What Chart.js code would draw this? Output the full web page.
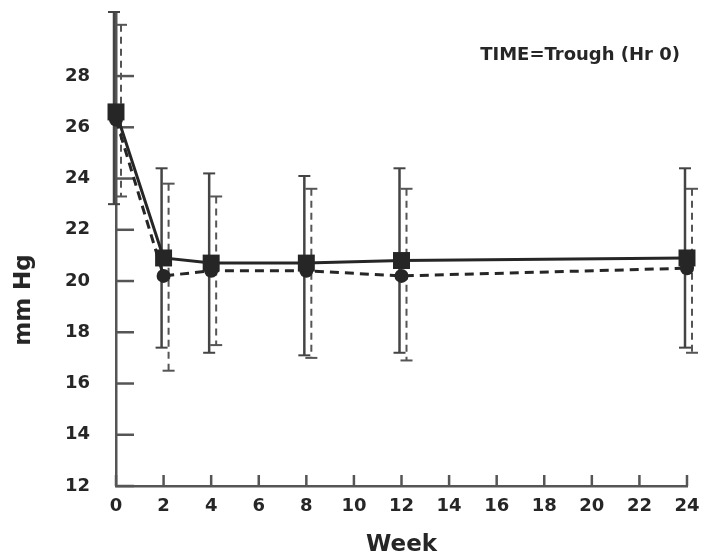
<!DOCTYPE html>
<html>
<head>
<meta charset="utf-8">
<script src="https://cdn.jsdelivr.net/npm/chart.js@4.4.0/dist/chart.umd.min.js"></script>
<style>
  html, body { margin: 0; padding: 0; background: #fff; }
  #wrap { width: 705px; height: 559px; }
</style>
</head>
<body>
<div id="wrap"><canvas id="chart"></canvas></div>
<script>
const weeks = [0, 2, 4, 8, 12, 24];
const solidMean = [26.6, 20.9, 20.7, 20.7, 20.8, 20.9];
const solidHigh = [30.5, 24.4, 24.2, 24.1, 24.4, 24.4];
const solidLow = [23.0, 17.4, 17.2, 17.1, 17.2, 17.4];
const dashMean = [26.3, 20.2, 20.4, 20.4, 20.2, 20.5];
const dashHigh = [30.0, 23.8, 23.3, 23.6, 23.6, 23.6];
const dashLow = [23.3, 16.5, 17.5, 17.0, 16.9, 17.2];
const xTicks = [0, 2, 4, 6, 8, 10, 12, 14, 16, 18, 20, 22, 24];
const yTicks = [12, 14, 16, 18, 20, 22, 24, 26, 28];
const yTitle = "mm Hg";
const note = "TIME=Trough (Hr 0)";

const ink = "#262626";
const axisColor = "#555";
const fontFamily = "'DejaVu Sans', sans-serif";

// error bars, inner tick marks, y title and the note
const extras = {
  id: "extras",
  beforeDatasetsDraw(chart) {
    const ctx = chart.ctx;
    const xs = chart.scales.x, ys = chart.scales.y;
    const area = chart.chartArea;
    ctx.save();
    ctx.strokeStyle = axisColor;
    ctx.lineWidth = 2.5;
    yTicks.forEach((v) => {
      const y = ys.getPixelForValue(v);
      ctx.beginPath();
      ctx.moveTo(area.left, y);
      ctx.lineTo(area.left + 18, y);
      ctx.stroke();
    });
    xTicks.forEach((v) => {
      const x = xs.getPixelForValue(v);
      ctx.beginPath();
      ctx.moveTo(x, area.bottom);
      ctx.lineTo(x, area.bottom - 11);
      ctx.stroke();
    });

    chart.data.datasets.forEach((ds) => {
      const eb = ds.errorBars;
      weeks.forEach((w, i) => {
        const x = xs.getPixelForValue(w) + eb.shift;
        const yHi = ys.getPixelForValue(eb.high[i]);
        const yLo = ys.getPixelForValue(eb.low[i]);
        ctx.strokeStyle = eb.color;
        ctx.lineWidth = eb.width;
        ctx.setLineDash(eb.dash);
        ctx.beginPath();
        ctx.moveTo(x, yHi);
        ctx.lineTo(x, yLo);
        ctx.stroke();
        ctx.setLineDash([]);
        ctx.lineWidth = 2;
        [yHi, yLo].forEach((y) => {
          ctx.beginPath();
          ctx.moveTo(x - 6, y);
          ctx.lineTo(x + 6, y);
          ctx.stroke();
        });
      });
    });

    ctx.fillStyle = ink;
    ctx.font = "bold 18px " + fontFamily;
    ctx.textAlign = "right";
    ctx.textBaseline = "middle";
    ctx.fillText(note, 680, 55);

    ctx.translate(24, 300);
    ctx.rotate(-Math.PI / 2);
    ctx.textAlign = "center";
    ctx.font = "bold 23px " + fontFamily;
    ctx.fillText(yTitle, 0, 0);
    ctx.restore();
  }
};

new Chart(document.getElementById("chart"), {
  type: "line",
  data: {
    datasets: [
      {
        data: weeks.map((w, i) => ({ x: w, y: solidMean[i] })),
        borderColor: ink,
        borderWidth: 3,
        pointStyle: "rect",
        pointRadius: 12,
        pointBackgroundColor: ink,
        pointBorderColor: ink,
        pointBorderWidth: 0,
        errorBars: { high: solidHigh, low: solidLow, shift: -2, dash: [], width: 2.5, color: "#444" }
      },
      {
        data: weeks.map((w, i) => ({ x: w, y: dashMean[i] })),
        borderColor: ink,
        borderWidth: 3,
        borderDash: [9, 6],
        pointStyle: "circle",
        pointRadius: 7,
        pointBackgroundColor: ink,
        pointBorderColor: ink,
        pointBorderWidth: 0,
        errorBars: { high: dashHigh, low: dashLow, shift: 5, dash: [7, 5], width: 2, color: "#555" }
      }
    ]
  },
  options: {
    responsive: true,
    maintainAspectRatio: false,
    animation: false,
    clip: false,
    layout: { padding: { top: 12, right: 18, left: 0, bottom: 0 } },
    plugins: {
      legend: { display: false },
      tooltip: { enabled: false }
    },
    scales: {
      x: {
        type: "linear",
        min: 0,
        max: 24,
        afterBuildTicks: (s) => { s.ticks = xTicks.map((v) => ({ value: v })); },
        afterFit: (s) => { s.height = 73; s.paddingLeft = 0; s.paddingRight = 0; },
        grid: { display: false },
        border: { display: true, color: axisColor, width: 2.5 },
        ticks: { color: ink, padding: 2, font: { family: fontFamily, size: 18, weight: "bold" } },
        title: {
          display: true,
          text: "Week",
          color: ink,
          padding: { top: 0, bottom: 0 },
          font: { family: fontFamily, size: 23, weight: "bold" }
        }
      },
      y: {
        min: 12,
        max: 30.5,
        afterBuildTicks: (s) => { s.ticks = yTicks.map((v) => ({ value: v })); },
        afterFit: (s) => { s.width = 116; s.paddingTop = 0; s.paddingBottom = 0; },
        grid: { display: false },
        border: { display: true, color: axisColor, width: 2.5 },
        ticks: { color: ink, padding: 18, font: { family: fontFamily, size: 18, weight: "bold" } }
      }
    }
  },
  plugins: [extras]
});
</script>
</body>
</html>
